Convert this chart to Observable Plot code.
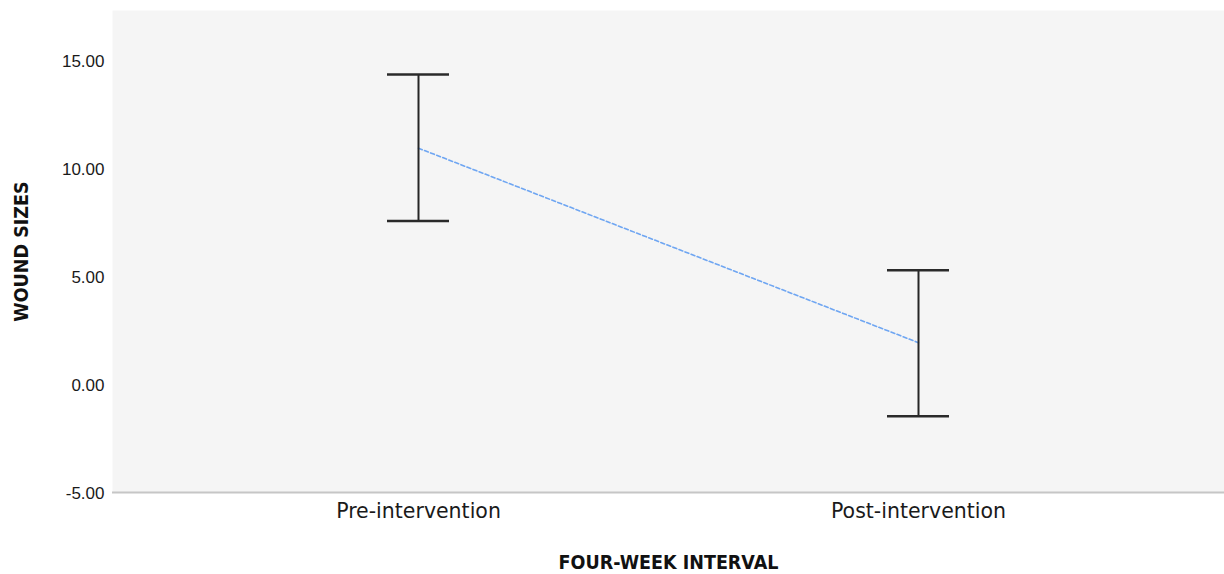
<!DOCTYPE html>
<html>
<head>
<meta charset="utf-8">
<script src="https://cdn.jsdelivr.net/npm/d3@7"></script>
<script src="https://cdn.jsdelivr.net/npm/@observablehq/plot@0.6"></script>
<style>
  html, body { margin: 0; padding: 0; background: #fff; }
</style>
</head>
<body>
<div id="chart"></div>
<script>
// Data
const categories = ["Pre-intervention", "Post-intervention"];
const means = [10.93, 1.93];
const lowerCI = [7.56, -1.47];
const upperCI = [14.34, 5.28];
const yTicks = [-5, 0, 5, 10, 15];
const xTitle = "FOUR-WEEK INTERVAL";
const yTitle = "WOUND SIZES";

const rows = categories.map((c, i) => ({interval: c, mean: means[i], lo: lowerCI[i], hi: upperCI[i]}));

const titleFont = "'DejaVu Sans Condensed', 'DejaVu Sans', sans-serif";

const chart = Plot.plot({
  width: 1224,
  height: 574,
  marginLeft: 112,
  marginRight: 0,
  marginTop: 10,
  marginBottom: 82,
  style: {background: "#ffffff", color: "#1a1a1a", overflow: "visible"},
  x: {type: "point", domain: categories, padding: 0.61, label: null},
  y: {domain: [-5, 17.3], label: null},
  marks: [
    Plot.frame({fill: "#f5f5f5", stroke: "none"}),
    Plot.ruleY([-5], {stroke: "#c6c6c6", strokeWidth: 2}),
    Plot.axisY({
      ticks: yTicks, tickFormat: d => d.toFixed(2), tickSize: 0, tickPadding: 8, dy: 1,
      label: null, fontSize: 17, fontFamily: "'Liberation Sans', Arial, sans-serif", fill: "#1a1a1a"
    }),
    Plot.axisX({
      tickSize: 0, tickPadding: 11, label: null,
      fontSize: 20.5, fontFamily: "'DejaVu Sans', sans-serif", fill: "#1a1a1a"
    }),
    Plot.line(rows, {x: "interval", y: "mean", stroke: "#6fa6f2", strokeWidth: 1.6, strokeDasharray: "4,2.5"}),
    Plot.ruleX(rows, {x: "interval", y1: "lo", y2: "hi", stroke: "#262626", strokeWidth: 2}),
    Plot.ruleY(rows, {x1: "interval", x2: "interval", y: "hi", insetLeft: -31, insetRight: -31, stroke: "#2a2a2a", strokeWidth: 2.5}),
    Plot.ruleY(rows, {x1: "interval", x2: "interval", y: "lo", insetLeft: -31, insetRight: -31, stroke: "#2a2a2a", strokeWidth: 2.5}),
    Plot.text([xTitle], {
      frameAnchor: "bottom", dy: 70, lineAnchor: "middle", text: d => d,
      fontSize: 19.5, fontWeight: "bold", fontFamily: titleFont, fill: "#111"
    }),
    Plot.text([yTitle], {
      frameAnchor: "left", dx: -91, rotate: -90, textAnchor: "middle", lineAnchor: "middle", text: d => d,
      fontSize: 19.5, fontWeight: "bold", fontFamily: titleFont, fill: "#111"
    })
  ]
});

document.getElementById("chart").appendChild(chart);
</script>
</body>
</html>
